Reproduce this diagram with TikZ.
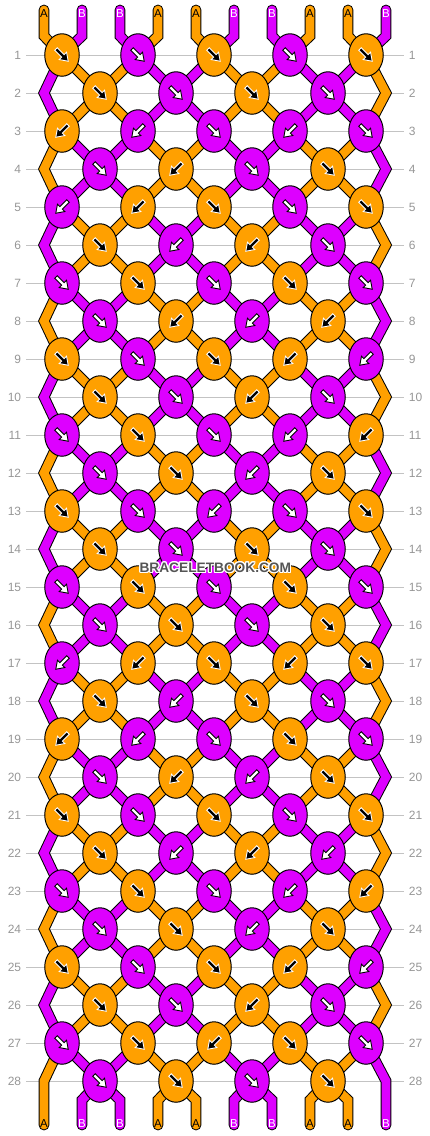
\documentclass[tikz,border=0pt]{standalone}
\usepackage{fontspec}
\setmainfont{Liberation Sans}
\usetikzlibrary{shapes.geometric}
\definecolor{threadA}{RGB}{255,160,0}
\definecolor{threadB}{RGB}{221,0,255}
\colorlet{thread0}{threadA}
\colorlet{thread1}{threadB}
\definecolor{rulegray}{RGB}{195,195,195}
\definecolor{numgray}{RGB}{150,150,150}
\definecolor{markgray}{RGB}{85,85,85}

\begin{document}
\begin{tikzpicture}[%
  x=1pt,y=-1pt,
  rowline/.style={rulegray,line width=0.8pt},
  rownum/.style={numgray,font=\fontsize{12}{12}\selectfont,inner sep=0pt},
  threadedge/.style={black,line width=10.8pt,line cap=round,line join=miter},
  thread/.style={line width=8.8pt,line cap=round,line join=miter},
  knot/.style={ellipse,draw=black,line width=1pt,minimum width=34.5pt,minimum height=42.5pt,inner sep=0pt},
  knot o/.style={knot,fill=threadA},
  knot m/.style={knot,fill=threadB},
  ink o/.style={fill=black,draw=white,line width=0.9pt},
  ink m/.style={fill=white,draw=black,line width=0.9pt},
  way d/.style={x={(0.7071pt,-0.7071pt)},y={(0.7071pt,0.7071pt)}},
  way l/.style={x={(-0.7071pt,-0.7071pt)},y={(0.7071pt,-0.7071pt)}},
  endlabel/.style={font=\fontsize{11.5}{11.5}\selectfont,inner sep=0pt},
  lab A/.style={endlabel,text=black},
  lab B/.style={endlabel,text=white},
  watermark/.style={font=\bfseries\fontsize{13.7}{14}\selectfont,inner sep=0pt}]

\useasboundingbox (0,0) rectangle (430,1136);

% string positions
\foreach \r in {1,...,28}{
  \pgfmathsetmacro\yy{55+38*(\r-1)}
  \foreach \p in {1,...,10}{
    \ifodd\r\relax
      \pgfmathsetmacro\xx{62+76*int((\p-1)/2)}
    \else
      \pgfmathsetmacro\xx{\p==1 ? 44 : (\p==10 ? 386 : 24+76*int(\p/2))}
    \fi
    \coordinate (s-\r-\p) at (\xx,\yy);
  }
}
\foreach \p in {1,...,10}{
  \pgfmathsetmacro\xx{44+38*(\p-1)}
  \coordinate (t0-\p) at (\xx,10);
  \coordinate (t1-\p) at (\xx,36);
  \coordinate (b0-\p) at (\xx,1100);
  \coordinate (b1-\p) at (\xx,1125);
}

% row numbers and guide lines
\foreach \r in {1,...,28}{
  \pgfmathsetmacro\yy{55+38*(\r-1)}
  \node[rownum,anchor=east] (nl-\r) at (21.3,\yy) {\r};
  \node[rownum,anchor=west] (nr-\r) at (408.7,\yy) {\r};
  \draw[rowline] ([xshift=4.7pt]nl-\r.east) -- ([xshift=-4.7pt]nr-\r.west);
}

% strings
\foreach \p in {1,...,10}{
  \draw[threadedge] (t0-\p) -- (t1-\p) \foreach \r in {1,...,28}{ -- (s-\r-\p)} -- (b0-\p) -- (b1-\p);
}
\foreach \p in {1,...,10}{
  \pgfmathtruncatemacro\ci{mod(\p,4)>1}
  \draw[thread,draw=thread\ci] (t0-\p) -- (t1-\p) -- (s-1-\p);
  \draw[thread,draw=thread\ci] (s-27-\p) -- (s-28-\p) -- (b0-\p) -- (b1-\p);
  \foreach \r in {1,3,...,25}{
    \pgfmathtruncatemacro\ci{mod((mod(\p,4)>1)+(mod(\r,4)==1),2)}
    \pgfmathtruncatemacro\rr{\r+1}
    \pgfmathtruncatemacro\rrr{\r+2}
    \draw[thread,draw=thread\ci] (s-\r-\p) -- (s-\rr-\p) -- (s-\rrr-\p);
  }
}

% knots
\foreach \r/\row in {
  1/{o/d,m/d,o/d,m/d,o/d}, 2/{o/d,m/d,o/d,m/d},
  3/{o/l,m/l,m/d,m/l,m/d}, 4/{m/d,o/l,m/d,o/d},
  5/{m/l,o/l,o/d,m/d,o/d}, 6/{o/d,m/l,o/l,m/d},
  7/{m/d,o/d,m/d,o/d,m/d}, 8/{m/d,o/l,m/l,o/l},
  9/{o/d,m/d,o/d,o/l,m/l}, 10/{o/d,m/d,o/l,m/d},
  11/{m/d,o/d,m/d,m/l,o/l}, 12/{m/d,o/d,m/l,o/d},
  13/{o/d,m/d,m/l,m/d,o/d}, 14/{o/d,m/d,o/d,m/d},
  15/{m/d,o/d,m/d,o/d,m/d}, 16/{m/d,o/d,m/d,o/d},
  17/{m/l,o/l,o/d,o/l,o/d}, 18/{o/d,m/l,o/d,m/d},
  19/{o/l,m/l,m/d,o/d,m/d}, 20/{m/d,o/l,m/l,o/d},
  21/{o/d,m/d,o/d,m/d,o/d}, 22/{o/d,m/l,o/l,m/l},
  23/{m/d,o/d,m/d,m/l,o/l}, 24/{m/d,o/d,m/l,o/d},
  25/{o/d,m/d,o/d,o/l,m/l}, 26/{o/d,m/d,o/l,m/d},
  27/{m/d,o/d,o/l,o/d,m/d}, 28/{m/d,o/d,m/d,o/d}}{
  \pgfmathsetmacro\yy{55+38*(\r-1)}
  \foreach \c/\d [count=\j] in \row {
    \ifodd\r\relax
      \pgfmathsetmacro\xx{62+76*(\j-1)}
    \else
      \pgfmathsetmacro\xx{100+76*(\j-1)}
    \fi
    \node[knot \c] (k-\r-\j) at (\xx,\yy) {};
    \filldraw[ink \c,shift={(k-\r-\j)},way \d] (-8.5,-1.7) -- (1.2,-1.7) -- (1.2,-5.2) -- (8.8,0) -- (1.2,5.2) -- (1.2,1.7) -- (-8.5,1.7) -- cycle;
  }
}

% end labels
\foreach \p/\lt in {1/A,2/B,3/B,4/A,5/A,6/B,7/B,8/A,9/A,10/B}{
  \pgfmathsetmacro\xx{44+38*(\p-1)}
  \node[lab \lt] (top-\p) at (\xx,13.3) {\lt};
  \node[lab \lt] (bot-\p) at (\xx,1123.3) {\lt};
}

\foreach \a [count=\h] in {0,22.5,...,337.5}
  \node[watermark,text=white] (halo-\h) at ([shift={(\a:1.1pt)}]215.3,567.5) {BRACELETBOOK.COM};
\node[watermark,text=markgray] (mark) at (215.3,567.5) {BRACELETBOOK.COM};
\end{tikzpicture}
\end{document}
